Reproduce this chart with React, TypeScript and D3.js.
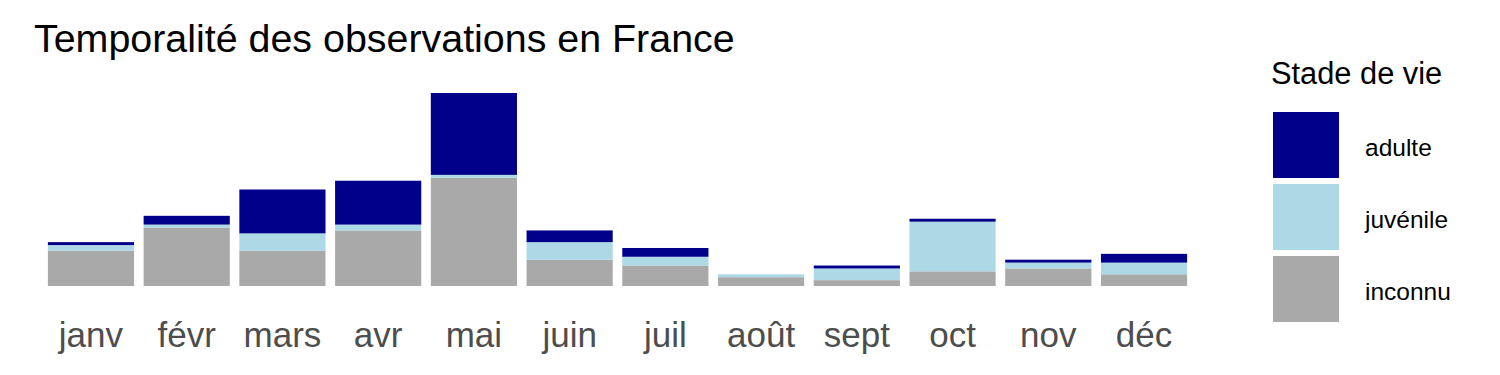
import React from "react";
import * as d3 from "d3";

const months = ["janv", "févr", "mars", "avr", "mai", "juin", "juil", "août", "sept", "oct", "nov", "déc"];
const inconnu = [12, 20, 12, 19, 37, 9, 7, 3, 2, 5, 6, 4];
const juvenile = [2, 1, 6, 2, 1, 6, 3, 1, 4, 17, 2, 4];
const adulte = [1, 3, 15, 15, 28, 4, 3, 0, 1, 1, 1, 3];
const stages = ["inconnu", "juvénile", "adulte"];
const legendOrder = ["adulte", "juvénile", "inconnu"];
const colors: Record<string, string> = { adulte: "#00008B", "juvénile": "#ADD8E6", inconnu: "#A9A9A9" };
const title = "Temporalité des observations en France";
const legendTitle = "Stade de vie";

export default function App() {
  const W = 1500, H = 375;
  const font = "'Liberation Sans', Arial, sans-serif";
  const rows = months.map((m, i) => ({ month: m, inconnu: inconnu[i], "juvénile": juvenile[i], adulte: adulte[i] }));
  const stacked = d3.stack<any>().keys(stages)(rows);
  const maxTotal = d3.max(rows, (r) => r.inconnu + r["juvénile"] + r.adulte) as number;
  const x = d3.scaleBand<string>().domain(months).range([43.1, 1191.9]).paddingInner(0.1).paddingOuter(0.05);
  const y = d3.scaleLinear().domain([0, maxTotal]).range([286, 93]);

  return (
    <svg width={W} height={H} style={{ position: "absolute", left: 0, top: 0, background: "#fff" }}>
      <text x={34} y={52} fontFamily={font} fontSize={39.4} fill="#000">{title}</text>
      {stacked.map((layer) => (
        <g key={layer.key} fill={colors[layer.key]}>
          {layer.map((d, i) => (
            <rect key={i} x={x(months[i])} width={x.bandwidth()} y={y(d[1])} height={Math.max(0, y(d[0]) - y(d[1]))} />
          ))}
        </g>
      ))}
      {months.map((m) => (
        <text key={m} x={(x(m) as number) + x.bandwidth() / 2} y={347} textAnchor="middle" fontFamily={font} fontSize={35} fill="#4D4D4D">{m}</text>
      ))}
      <text x={1271} y={84} fontFamily={font} fontSize={30.8} fill="#000">{legendTitle}</text>
      {legendOrder.map((k, i) => (
        <g key={k}>
          <rect x={1273} y={112 + i * 72} width={66} height={66} fill={colors[k]} />
          <text x={1365} y={112 + i * 72 + 35} dominantBaseline="central" fontFamily={font} fontSize={24.5} fill="#000">{k}</text>
        </g>
      ))}
    </svg>
  );
}
